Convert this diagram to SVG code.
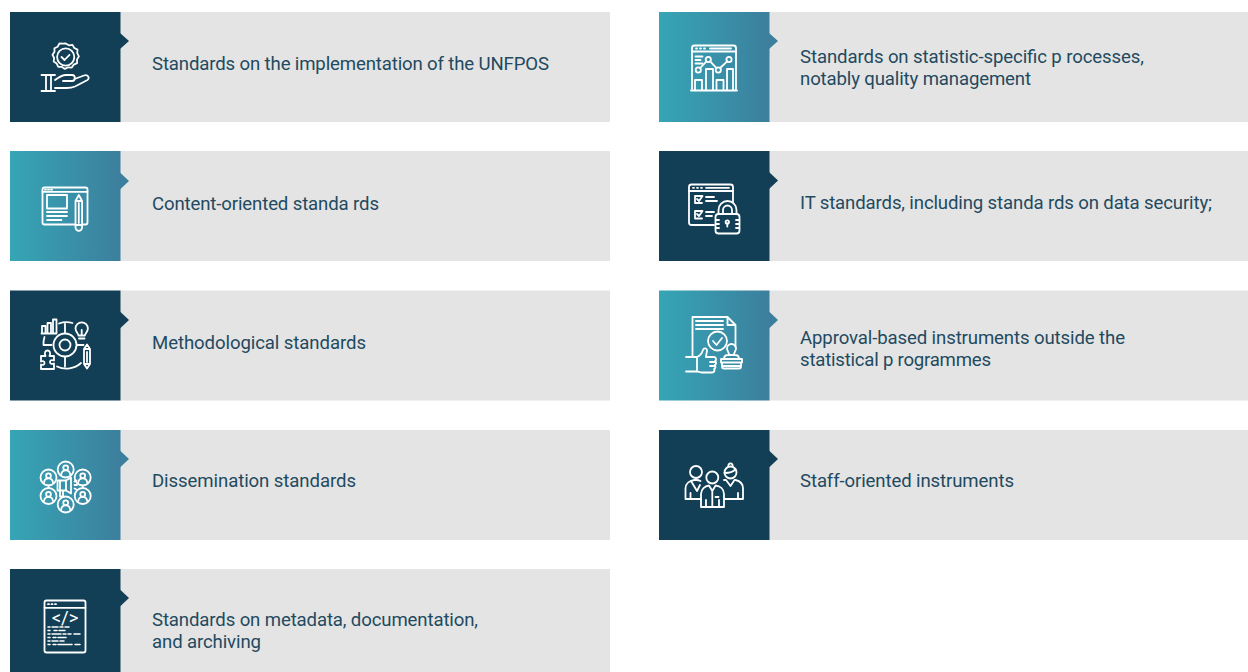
<svg xmlns="http://www.w3.org/2000/svg" width="1248" height="672" viewBox="0 0 1248 672">
<style>
.bg{fill:#e4e4e4}
.dk{fill:#123f56}
.tl{fill:url(#tg)}
.ar{fill:#123f56}
.ar2{fill:#3c7f9d}
.t{font-family:Roboto,"Liberation Sans",sans-serif;font-size:18.6px;fill:#1f4a5f}
.i{fill:none;stroke:#fff;stroke-width:1.8;stroke-linecap:round;stroke-linejoin:round}
</style>
<defs>
<linearGradient id="tg" x1="0" y1="0" x2="1" y2="0"><stop offset="0" stop-color="#36a5b6"/><stop offset="1" stop-color="#3c7f9d"/></linearGradient>
<g id="person"><circle r="8"/><circle cy="-1.800" r="2.400"/><path d="M-4.500 5c.4-3.200 2.200-4.200 4.500-4.200s4.100 1 4.500 4.200"/></g>
</defs>
<rect width="1248" height="672" fill="#fff"/>

<g id="n1">
<rect class="bg" x="120" y="12" width="490" height="110"/><rect class="dk" x="10" y="12" width="110.500" height="110"/>
<path class="ar" d="M120 33l9 8-9 8z"/>
<g class="i">
<path d="M65.700 43.500l3.200 1.800 3.600-.4 1.800 3.100 3.200 1.600-.3 3.600 1.700 3.200-1.900 3.100.1 3.600-3.300 1.500-2 3-3.600-.3-3.300 1.600-3-2-3.600-.1-1.600-3.200-3-2 .4-3.600-1.600-3.200 2-3-.1-3.600 3.300-1.500 1.700-3.200 3.600.2z"/>
<circle cx="65.700" cy="57" r="8.600"/>
<path d="M61.500 57l3 3 5-5.200"/>
<path d="M41.500 75h13.500M41.500 91h13.500M46 75v16M51 75v16"/>
<path d="M55 80c4-3 7-5 11-5h6c3.800 0 3.800 6 0 6h-9"/>
<path d="M74.500 79l9.500-3.500c4-1.300 6.500 2.800 3 4.800l-12 6.200c-3 1.300-5 1.500-8.500 1.500H55"/>
</g>
</g>

<g id="n2">
<rect class="bg" x="120" y="151" width="490" height="110"/><rect class="tl" x="10" y="151" width="110.500" height="110"/>
<path class="ar2" d="M120 172.500l9 8.500-9 8.500z"/>
<g class="i">
<path d="M75.500 224.500H44.500a2 2 0 0 1-2-2V189.500a2 2 0 0 1 2-2H85.500a2 2 0 0 1 2 2v33a2 2 0 0 1-2 2H82.500"/>
<path d="M42.500 191.800H87.500"/>
<path d="M45 189.700h1M48 189.700h1M51 189.700h1"/>
<rect x="47" y="195" width="20" height="13.500"/>
<path d="M47 212h20M47 216h20M47 220h14.500"/>
<path d="M75.500 201l3.300-6 3.300 6v26.500a3.300 3.300 0 0 1-6.600 0zM75.500 201h6.600M78.800 203v20M75.500 225h6.600"/>
</g>
</g>

<g id="n3">
<rect class="bg" x="120" y="290.500" width="490" height="110"/><rect class="dk" x="10" y="290.500" width="110.500" height="110"/>
<path class="ar" d="M120 311.500l9 8.500-9 8.500z"/>
<g class="i">
<path d="M41.500 333.500h15M42 333v-7h3.500v7M47.500 333v-10h3.500v10M53 333v-13.500h3.500V333"/>
<path d="M59 323.500a22 22 0 0 1 13.500-.5M44.500 337a22 22 0 0 0-1 8h8M57 366.500a22 22 0 0 0 24-3.500M65 323v10M65 357v9.500M77 345h6.500"/>
<circle cx="65" cy="345" r="5.500"/>
<circle cx="65" cy="345" r="11.500"/>
<path d="M78.500 335.500c0-2-3-3.500-3-7a6.200 6.200 0 0 1 12.400 0c0 3.500-3 5-3 7zM79 338.500h5.500M81.700 335v-5"/>
<path d="M84 349l3-4.500 3 4.500v15l-3 4.500-3-4.500zM84 349h6M84 364h6M87 352v10"/>
<path d="M41 356h4.500c-1.500-3.500 0-5.500 2-5.500s3.500 2 2 5.500H54v4.500c-2.500-1-4-.2-4 1.500s1.500 2.500 4 1.500v5.500H41v-4.500c2 1 3.500 0 3.500-1.500S43 360.500 41 361.500z"/>
</g>
</g>

<g id="n4">
<rect class="bg" x="120" y="430" width="490" height="110"/><rect class="tl" x="10" y="430" width="110.500" height="110"/>
<path class="ar2" d="M120 450.500l9 8.500-9 8.500z"/>
<g class="i">
<use href="#person" x="65.700" y="469.500"/><use href="#person" x="48.500" y="477.500"/><use href="#person" x="82.700" y="477.500"/>
<use href="#person" x="48.500" y="496"/><use href="#person" x="82.700" y="496"/><use href="#person" x="65.700" y="504.500"/>
<path d="M48.500 485.500v2.500M82.700 485.500v2.500"/>
<path d="M57.500 480.500h8.500v10h-8.500zM66 480.500l5-3v16l-5-3M60 490.500v6h3v-6M60 480.500v10"/>
<path d="M74.500 481.500l2-1M74.500 485h2.500M74.500 488.500l2 1"/>
</g>
</g>

<g id="n5">
<rect class="bg" x="120" y="569" width="490" height="103"/><rect class="dk" x="10" y="569" width="110.500" height="103"/>
<path class="ar" d="M120 589.500l9 8.500-9 8.500z"/>
<g class="i">
<rect x="44.500" y="600.500" width="41" height="52" rx="2"/>
<path d="M44.500 607.800H85.500"/>
<path d="M48 604.200h1M51.500 604.200h1M55 604.200h1"/>
<path stroke-width="1.500" d="M48 627h2M52 627h6M60 627h3M65 627h4M48 630.500h2M54 630.500h3M59 630.500h6M48 634h2M52 634h9M63 634h3M68 634h3M74 634h6M48 637.500h2M53 637.500h3M58 637.500h8M48 641h2M52 641h6M60 641h4M48 644.500h2M53 644.500h3M58 644.500h14M75 644.500h5"/>
</g>
<text x="65" y="623.500" text-anchor="middle" font-family="Roboto,'Liberation Sans',sans-serif" font-size="18.500" fill="#fff">&lt;/&gt;</text>
</g>

<g id="n6">
<rect class="bg" x="769" y="12" width="479" height="110"/><rect class="tl" x="659" y="12" width="110.500" height="110"/>
<path class="ar2" d="M769 33l9 8-9 8z"/>
<g class="i">
<path d="M692 89V48a2.500 2.500 0 0 1 2.500-2.500h39a2.500 2.500 0 0 1 2.500 2.500v41"/>
<path d="M692 51.500h44M691 90.500h46"/>
<path d="M696 48.500h1M700 48.500h1M704 48.500h1M710 48.500h21"/>
<path d="M695.500 56.500h7M695.500 60h5M695.500 63.500h7"/>
<path d="M695 90V80h7v10M706 90V69h7v21M716.500 90V80h7v10M727 90V69h6v21"/>
<circle cx="698.300" cy="70" r="2.600"/><circle cx="708.300" cy="59.500" r="2.600"/><circle cx="718.300" cy="70" r="2.600"/><circle cx="729" cy="59.500" r="2.600"/>
<path d="M700.200 68l6.300-6.700M710.200 61.400l6.300 6.700M720.100 68l7.100-6.700"/>
</g>
</g>

<g id="n7">
<rect class="bg" x="769" y="151" width="479" height="110"/><rect class="dk" x="659" y="151" width="110.500" height="110"/>
<path class="ar" d="M769 172l9 8.500-9 8.500z"/>
<g class="i">
<path d="M714 225h-22.500a2.500 2.500 0 0 1-2.500-2.500v-35.500a2.500 2.500 0 0 1 2.500-2.500h39a2.500 2.500 0 0 1 2.500 2.500v15"/>
<path d="M689 191h44"/>
<path d="M693 187.800h1M697 187.800h1M701 187.800h1M706 187.800h23"/>
<path d="M702 196h-7v7h7M697 199l2 2 3.500-5M702 211h-7v7.500h7M697 214l2 2 3.500-5"/>
<path d="M706 197h8M706 201h11M706 212h8M706 216h6"/>
<rect x="715.500" y="214" width="24" height="19.500" rx="3"/>
<path d="M718.500 214v-4a9 9 0 0 1 18 0v4M723 214v-4a4.500 4.500 0 0 1 9 0v4"/>
<circle cx="727.300" cy="222" r="1.700"/><path d="M727.300 223.500v3M716 220h3M716 224h3M716 228h3M736 220h3M736 224h3M736 228h3"/>
</g>
</g>

<g id="n8">
<rect class="bg" x="769" y="290.500" width="479" height="110"/><rect class="tl" x="659" y="290.500" width="110.500" height="110"/>
<path class="ar2" d="M769 311.500l9 8.500-9 8.500z"/>
<g class="i">
<path d="M692.500 356v-39h35l8 8v22M727.500 317v8h8"/>
<path d="M696 321h27M696 325h27M696 329h27"/>
<circle cx="717.500" cy="341" r="9.500"/><path d="M713 341l3.500 4 5.500-7"/>
<path d="M686 357h11c3-1 5-4 6-7 .8-2.500 4-2 4 .5 0 2-1 4-1 6.500h8c2.500 0 2.500 3.500 1 4 1.500.5 1.500 3.500-.3 4 1.300.7 1 3.500-.7 4 1 1 .5 3.500-2 3.500h-10c-2 0-3-1-5-1H686M697 357v13M710 362h5M710 366h4"/>
<path d="M729 355c0-3-2-4-2-6.500a4.500 4.500 0 0 1 9 0c0 2.500-2 3.500-2 6.500M724 359c0-2.500 1.500-4 4-4h7c2.500 0 4 1.500 4 4zM721 359h21v3.500h-21zM722 362.500v4a2 2 0 0 0 2 2h15a2 2 0 0 0 2-2v-4M722 366h19"/>
</g>
</g>

<g id="n9">
<rect class="bg" x="769" y="430" width="479" height="110"/><rect class="dk" x="659" y="430" width="110.500" height="110"/>
<path class="ar" d="M769 450.500l9 8.500-9 8.500z"/>
<g class="i" stroke-width="2">
<circle cx="696" cy="472" r="6"/><circle cx="712.300" cy="477.500" r="6"/><circle cx="730.500" cy="472.500" r="6"/>
<path d="M724.500 473c3 0 9-1 11-4M728.500 466.500a2.200 2.200 0 1 1 4 0"/>
<path d="M701 499h-15.500v-10.500c0-5 4-8 9-8.500h2c1.500 0 3 .5 4 1M690.500 499v-6M691 481l6 10 3-6M724 480h2l4.500 6 4-6h1c4.500 1 7.500 3.500 7.500 8.500V499h-18.500M738 499v-6"/>
<path d="M701 507v-13c0-5 4-8 8-8.500l3.300 5.500 3.300-5.500c4.500.5 8.400 3.500 8.400 8.500v13zM712.300 491v16M706 507v-7M719 507v-7M715.500 497h3"/>
</g>
</g>

<text class="t" x="152" y="70" textLength="397">Standards on the implementation of the UNFPOS</text>
<text class="t" x="152" y="210" textLength="227">Content-oriented standa rds</text>
<text class="t" x="152" y="349" textLength="214">Methodological standards</text>
<text class="t" x="152" y="487" textLength="204">Dissemination standards</text>
<text class="t" x="152" y="626" textLength="326">Standards on metadata, documentation,</text>
<text class="t" x="152" y="647.500" textLength="109">and archiving</text>
<text class="t" x="800" y="62.500" textLength="344">Standards on statistic-specific p rocesses,</text>
<text class="t" x="800" y="84.500" textLength="231">notably quality management</text>
<text class="t" x="800" y="208.500" textLength="412">IT standards, including standa rds on data security;</text>
<text class="t" x="800" y="344" textLength="325">Approval-based instruments outside the</text>
<text class="t" x="800" y="365.500" textLength="191">statistical p rogrammes</text>
<text class="t" x="800" y="487" textLength="214">Staff-oriented instruments</text>
</svg>
